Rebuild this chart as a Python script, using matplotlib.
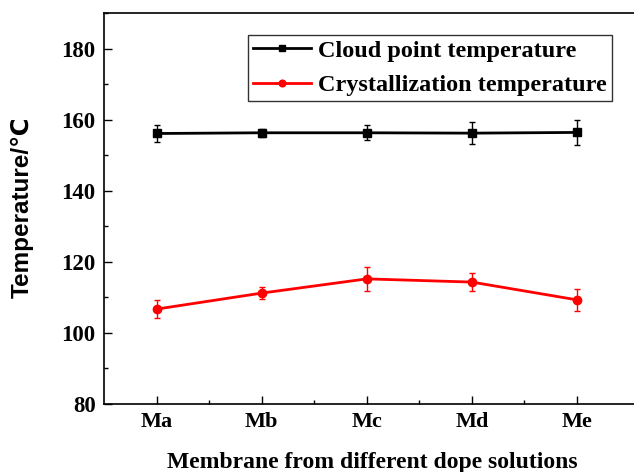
import matplotlib
matplotlib.use("Agg")
import matplotlib.pyplot as plt
from matplotlib.ticker import MultipleLocator, FixedLocator

categories = ["Ma", "Mb", "Mc", "Md", "Me"]
cloud_point = [156.1, 156.3, 156.3, 156.2, 156.4]
cloud_err = [2.3, 1.2, 2.1, 3.1, 3.5]
crystal = [106.7, 111.2, 115.2, 114.3, 109.3]
crystal_err = [2.6, 1.8, 3.4, 2.5, 3.0]

serif = ["Liberation Serif", "DejaVu Serif"]
sans = ["Liberation Sans", "DejaVu Sans"]

fig = plt.figure(figsize=(6.34, 4.72), dpi=100)
ax = fig.add_axes([104/634, 68/472, 1 - 104/634, (404-13)/472])

x = list(range(1, len(categories) + 1))
eb1 = ax.errorbar(x, cloud_point, yerr=cloud_err, color="black", lw=2, marker="s",
                  ms=6, capsize=2.5, elinewidth=1, capthick=1)
eb2 = ax.errorbar(x, crystal, yerr=crystal_err, color="red", lw=2, marker="o",
                  ms=6, capsize=2.5, elinewidth=1, capthick=1)

ax.set_xlim(0.5, 1 + (634 - 157) / 105)
ax.set_ylim(80, 190)
ax.set_xticks(x)
ax.set_xticklabels(categories)
ax.xaxis.set_minor_locator(FixedLocator([1.5, 2.5, 3.5, 4.5]))
ax.yaxis.set_major_locator(MultipleLocator(20))
ax.yaxis.set_minor_locator(MultipleLocator(10))
ax.tick_params(which="both", direction="in", top=False, right=False)
ax.tick_params(which="major", length=6, width=1, labelsize=16, pad=6)
ax.tick_params(axis="y", which="major", labelsize=16.5)
ax.tick_params(which="minor", length=3, width=1)
for lab in ax.get_xticklabels() + ax.get_yticklabels():
    lab.set_family(serif)
    lab.set_fontweight("bold")
ax.spines["right"].set_visible(False)
for s in ["left", "bottom", "top"]:
    ax.spines[s].set_linewidth(1.2)

ax.set_xlabel("Membrane from different dope solutions", family=serif,
              fontweight="bold", fontsize=17)
ax.xaxis.set_label_coords((372 - 104) / 530, -(452 - 404) / 391)
ax.set_ylabel("Temperature/\u2103", family=sans, fontweight="bold",
              fontsize=17.5)
ax.yaxis.set_label_coords(-(104 - 34) / 530, (404 - 207) / 391)

leg = ax.legend([eb1.lines[0], eb2.lines[0]],
                ["Cloud point temperature", "Crystallization temperature"],
                loc="upper left", bbox_to_anchor=((248-104)/530, (404-35)/391),
                prop={"family": serif, "weight": "bold", "size": 17.5},
                frameon=True, fancybox=False, edgecolor="black",
                handlelength=2.4, handletextpad=0.3, borderpad=0.2,
                labelspacing=0.5, borderaxespad=0, markerscale=0.8)
leg.get_frame().set_linewidth(1)

fig.savefig("out.png", dpi=100)
